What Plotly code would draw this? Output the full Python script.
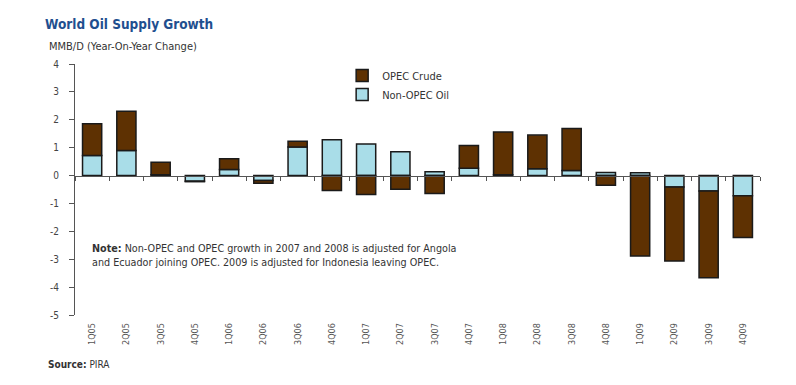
import plotly.graph_objects as go

quarters = ["1Q05", "2Q05", "3Q05", "4Q05", "1Q06", "2Q06", "3Q06", "4Q06",
            "1Q07", "2Q07", "3Q07", "4Q07", "1Q08", "2Q08", "3Q08", "4Q08",
            "1Q09", "2Q09", "3Q09", "4Q09"]
non_opec = [0.72, 0.90, 0.03, -0.20, 0.22, -0.18, 1.02, 1.28,
            1.13, 0.85, 0.14, 0.26, 0.03, 0.24, 0.18, 0.11,
            0.10, -0.41, -0.55, -0.72]
opec_crude = [1.14, 1.41, 0.45, -0.02, 0.38, -0.10, 0.21, -0.54,
              -0.68, -0.49, -0.64, 0.82, 1.53, 1.21, 1.51, -0.35,
              -2.88, -2.65, -3.11, -1.50]
y_ticks = [4, 3, 2, 1, 0, -1, -2, -3, -4, -5]

FONT = "Liberation Sans Narrow, DejaVu Sans Condensed, Arial Narrow, sans-serif"
BROWN = "#5e3102"
LIGHTBLUE = "#a9dde8"

# page body has an 8px margin: compensate so the plot lands where the reference has it
OFF = 8

fig = go.Figure()
fig.add_trace(go.Bar(x=quarters, y=non_opec, name="Non-OPEC Oil",
                     marker=dict(color=LIGHTBLUE, line=dict(color="#1a1a1a", width=1.5))))
fig.add_trace(go.Bar(x=quarters, y=opec_crude, name="OPEC Crude",
                     marker=dict(color=BROWN, line=dict(color="#1a1a1a", width=1.5))))

fig.update_layout(
    width=796, height=385,
    barmode="relative",
    bargap=0.44,
    plot_bgcolor="white", paper_bgcolor="white",
    margin=dict(l=75 - OFF, r=36 + OFF, t=64 - OFF, b=70 + OFF),
    font=dict(family=FONT, color="#333333", size=10),
    title=dict(text="<b>World Oil Supply Growth</b>", x=(45 - OFF) / 796, xanchor="left",
               y=1 - (24 - OFF) / 385, yanchor="middle", yref="container",
               font=dict(family=FONT, size=13.5, color="#1f4f8f")),
    legend=dict(x=0.39, y=1.012, xanchor="left", yanchor="top",
                traceorder="reversed", bgcolor="rgba(0,0,0,0)",
                font=dict(family=FONT, size=11, color="#333333"),
                itemwidth=30, tracegroupgap=2),
    showlegend=True,
)

fig.update_yaxes(range=[-5, 4], tickvals=y_ticks, ticktext=[str(v) for v in y_ticks],
                 showgrid=False, zeroline=False, showline=True, linecolor="#555555",
                 linewidth=1, ticks="outside", ticklen=5, tickcolor="#555555",
                 ticklabelstandoff=8, automargin=False,
                 tickfont=dict(size=10, color="#444444"))

fig.update_xaxes(type="category", showgrid=False, showline=True, linecolor="#555555",
                 linewidth=1, ticks="outside", tickson="boundaries", ticklen=4,
                 tickcolor="#555555", tickangle=-90,
                 anchor="free", position=5/9, automargin=False,
                 ticklabelstandoff=143,
                 tickfont=dict(size=9, color="#555555"))

fig.add_annotation(xref="paper", yref="paper", x=-0.041, y=1.068, xanchor="left",
                   yanchor="middle", showarrow=False,
                   text="MMB/D (Year-On-Year Change)",
                   font=dict(family=FONT, size=11, color="#333333"))
fig.add_annotation(xref="paper", yref="paper", x=0.022, y=0.239, xanchor="left",
                   yanchor="middle", align="left", showarrow=False,
                   text="<b>Note:</b> Non-OPEC and OPEC growth in 2007 and 2008 is adjusted for Angola<br>"
                        "and Ecuador joining OPEC. 2009 is adjusted for Indonesia leaving OPEC.",
                   font=dict(family=FONT, size=10.7, color="#333333"))
fig.add_annotation(xref="paper", yref="paper", x=(46 - 75) / 685, y=(315 - 364) / 251,
                   xanchor="left", yanchor="middle", showarrow=False,
                   text="<b>Source:</b> PIRA",
                   font=dict(family=FONT, size=10, color="#333333"))

fig.write_html("out.html")
